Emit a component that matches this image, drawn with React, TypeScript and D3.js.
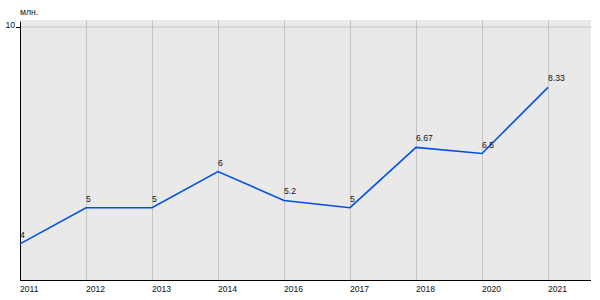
import React from "react";
import * as d3 from "d3";

const years = ["2011", "2012", "2013", "2014", "2016", "2017", "2018", "2020", "2021"];
const values = [4, 5, 5, 6, 5.2, 5, 6.67, 6.5, 8.33];
const valueLabels = ["4", "5", "5", "6", "5.2", "5", "6.67", "6.5", "8.33"];
const yTicks = [10];
const unitLabel = "млн.";

export default function App() {
  const W = 600, H = 300;
  const left = 20, right = 591, top = 20, bottom = 280;
  const x = d3.scalePoint<string>().domain(years).range([20, 548]);
  const y = d3.scaleLinear().domain([3, 10]).range([280, 27]);
  const line = d3.line<number>().x((_, i) => x(years[i])!).y(d => y(d));
  const font = "'Liberation Sans', Arial, sans-serif";
  const fs = 8.6;
  return (
    <svg width={W} height={H} style={{ position: "absolute", left: 0, top: 0 }} fontFamily={font}>
      <rect x={left} y={top} width={right - left} height={bottom - top} fill="#e9e9e9" />
      {yTicks.map(t => (
        <line key={t} x1={left} x2={right} y1={y(t)} y2={y(t)} stroke="#c4c4c4" />
      ))}
      {years.map(yr => (
        <line key={yr} x1={x(yr)! + 0.5} x2={x(yr)! + 0.5} y1={top} y2={bottom} stroke="#c4c4c4" />
      ))}
      <line x1={left + 0.5} x2={left + 0.5} y1={22} y2={bottom + 0.5} stroke="#000" />
      <line x1={left} x2={right} y1={bottom + 0.5} y2={bottom + 0.5} stroke="#000" />
      {yTicks.map(t => (
        <g key={t}>
          <line x1={16} x2={left} y1={y(t) + 0.5} y2={y(t) + 0.5} stroke="#000" />
          <text x={15} y={y(t) + 0.5} fontSize={fs} textAnchor="end" fill="#111">{t}</text>
        </g>
      ))}
      <text x={20} y={15} fontSize={fs} fill="#111">{unitLabel}</text>
      {years.map(yr => (
        <text key={yr} x={x(yr)!} y={292} fontSize={fs} fill="#111">{yr}</text>
      ))}
      <path d={line(values)!} fill="none" stroke="#0050e8" strokeWidth={1.6} />
      {values.map((v, i) => (
        <text key={i} x={x(years[i])!} y={y(v) - 6} fontSize={fs} fill="#111">{valueLabels[i]}</text>
      ))}
    </svg>
  );
}
